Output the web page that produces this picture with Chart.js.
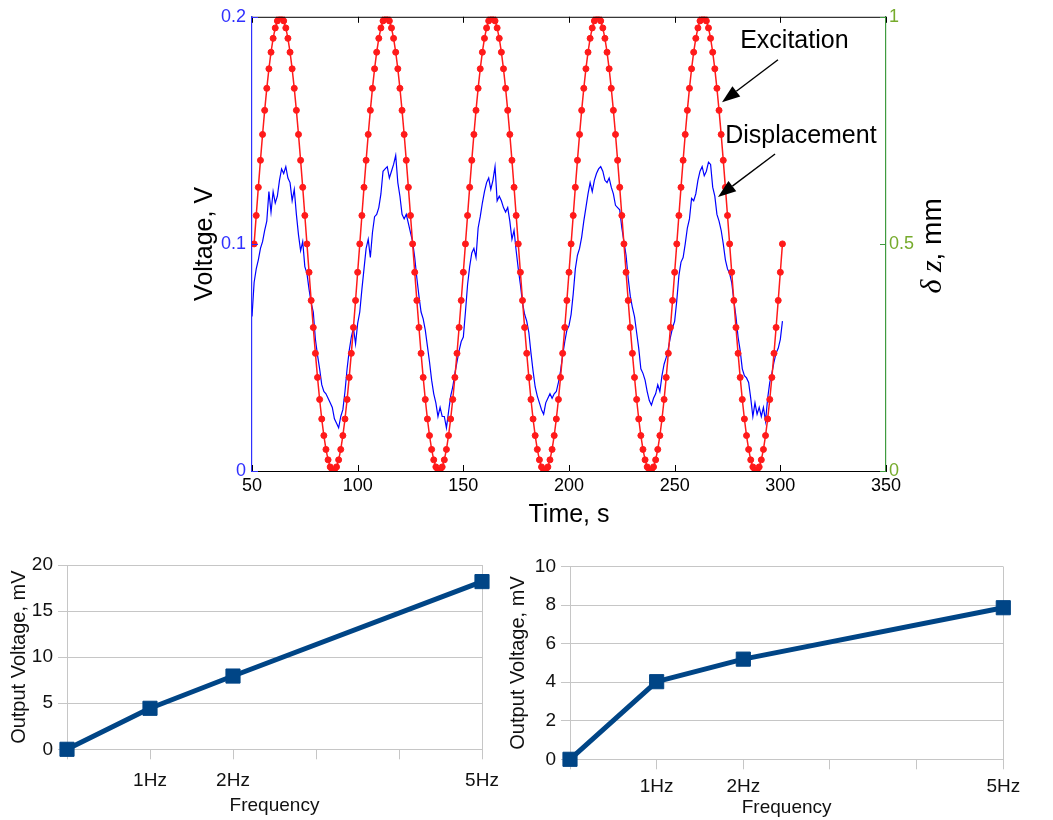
<!DOCTYPE html>
<html lang="en">
<head>
    <meta charset="UTF-8">
    <meta name="viewport" content="width=device-width, initial-scale=1.0">
    <title>Excitation, displacement and output voltage</title>
    <script src="https://cdn.jsdelivr.net/npm/chart.js"></script>
    <style>
        body { margin: 0; background: #fff; }
        canvas { position: absolute; }
    </style>
</head>
<body>
    <canvas id="timeChart" width="1053" height="540" style="left:0;top:0"></canvas>
    <canvas id="freqChartA" width="500" height="280" style="left:0;top:540px"></canvas>
    <canvas id="freqChartB" width="553" height="280" style="left:500px;top:540px"></canvas>
    <script>
        // ---- top plot: time series, one sample per second ----
        const excitationStart = 51;   // s
        const displacementStart = 50; // s

        // excitation voltage, V (one line per cycle)
        const excitationV = [
            0.1, 0.1125, 0.1249, 0.1368, 0.1482, 0.1588, 0.1685, 0.1771, 0.1844, 0.1905, 0.1951, 0.1982, 0.1998, 0.1998, 0.1982, 0.1951, 0.1905, 0.1844, 0.1771, 0.1685, 0.1588, 0.1482, 0.1368, 0.1249, 0.1125, 0.1, 0.0875, 0.0751, 0.0632, 0.0518, 0.0412, 0.0315, 0.0229, 0.0156, 0.0095, 0.0049, 0.0018, 0.0002, 0.0002, 0.0018, 0.0049, 0.0095, 0.0156, 0.0229, 0.0315, 0.0412, 0.0518, 0.0632, 0.0751, 0.0875,
            0.1, 0.1125, 0.1249, 0.1368, 0.1482, 0.1588, 0.1685, 0.1771, 0.1844, 0.1905, 0.1951, 0.1982, 0.1998, 0.1998, 0.1982, 0.1951, 0.1905, 0.1844, 0.1771, 0.1685, 0.1588, 0.1482, 0.1368, 0.1249, 0.1125, 0.1, 0.0875, 0.0751, 0.0632, 0.0518, 0.0412, 0.0315, 0.0229, 0.0156, 0.0095, 0.0049, 0.0018, 0.0002, 0.0002, 0.0018, 0.0049, 0.0095, 0.0156, 0.0229, 0.0315, 0.0412, 0.0518, 0.0632, 0.0751, 0.0875,
            0.1, 0.1125, 0.1249, 0.1368, 0.1482, 0.1588, 0.1685, 0.1771, 0.1844, 0.1905, 0.1951, 0.1982, 0.1998, 0.1998, 0.1982, 0.1951, 0.1905, 0.1844, 0.1771, 0.1685, 0.1588, 0.1482, 0.1368, 0.1249, 0.1125, 0.1, 0.0875, 0.0751, 0.0632, 0.0518, 0.0412, 0.0315, 0.0229, 0.0156, 0.0095, 0.0049, 0.0018, 0.0002, 0.0002, 0.0018, 0.0049, 0.0095, 0.0156, 0.0229, 0.0315, 0.0412, 0.0518, 0.0632, 0.0751, 0.0875,
            0.1, 0.1125, 0.1249, 0.1368, 0.1482, 0.1588, 0.1685, 0.1771, 0.1844, 0.1905, 0.1951, 0.1982, 0.1998, 0.1998, 0.1982, 0.1951, 0.1905, 0.1844, 0.1771, 0.1685, 0.1588, 0.1482, 0.1368, 0.1249, 0.1125, 0.1, 0.0875, 0.0751, 0.0632, 0.0518, 0.0412, 0.0315, 0.0229, 0.0156, 0.0095, 0.0049, 0.0018, 0.0002, 0.0002, 0.0018, 0.0049, 0.0095, 0.0156, 0.0229, 0.0315, 0.0412, 0.0518, 0.0632, 0.0751, 0.0875,
            0.1, 0.1125, 0.1249, 0.1368, 0.1482, 0.1588, 0.1685, 0.1771, 0.1844, 0.1905, 0.1951, 0.1982, 0.1998, 0.1998, 0.1982, 0.1951, 0.1905, 0.1844, 0.1771, 0.1685, 0.1588, 0.1482, 0.1368, 0.1249, 0.1125, 0.1, 0.0875, 0.0751, 0.0632, 0.0518, 0.0412, 0.0315, 0.0229, 0.0156, 0.0095, 0.0049, 0.0018, 0.0002, 0.0002, 0.0018, 0.0049, 0.0095, 0.0156, 0.0229, 0.0315, 0.0412, 0.0518, 0.0632, 0.0751, 0.0875,
            0.1
        ];

        // measured displacement δz, mm (t = 50 ... 301 s)
        const displacementMm = [
            0.340, 0.415, 0.445, 0.465, 0.490, 0.505, 0.530, 0.550, 0.615, 0.570,
            0.615, 0.590, 0.605, 0.640, 0.665, 0.655, 0.670, 0.645, 0.635, 0.595,
            0.620, 0.565, 0.520, 0.485, 0.505, 0.450, 0.435, 0.400, 0.370, 0.350,
            0.290, 0.255, 0.225, 0.190, 0.175, 0.170, 0.160, 0.150, 0.140, 0.115,
            0.105, 0.095, 0.120, 0.135, 0.175, 0.225, 0.265, 0.295, 0.315, 0.280,
            0.325, 0.350, 0.400, 0.445, 0.490, 0.510, 0.470, 0.525, 0.560, 0.565,
            0.580, 0.610, 0.660, 0.665, 0.670, 0.645, 0.660, 0.675, 0.695, 0.635,
            0.605, 0.565, 0.555, 0.565, 0.545, 0.525, 0.505, 0.470, 0.425, 0.385,
            0.350, 0.335, 0.310, 0.275, 0.240, 0.200, 0.170, 0.150, 0.120, 0.140,
            0.120, 0.120, 0.095, 0.130, 0.165, 0.185, 0.215, 0.240, 0.265, 0.285,
            0.295, 0.350, 0.410, 0.450, 0.480, 0.490, 0.470, 0.535, 0.560, 0.590,
            0.615, 0.635, 0.645, 0.620, 0.640, 0.670, 0.595, 0.605, 0.595, 0.580,
            0.570, 0.580, 0.550, 0.510, 0.530, 0.485, 0.445, 0.410, 0.370, 0.345,
            0.330, 0.305, 0.260, 0.220, 0.185, 0.165, 0.150, 0.135, 0.125, 0.150,
            0.160, 0.170, 0.160, 0.170, 0.175, 0.195, 0.220, 0.255, 0.285, 0.310,
            0.320, 0.345, 0.390, 0.445, 0.475, 0.490, 0.515, 0.550, 0.580, 0.610,
            0.635, 0.615, 0.640, 0.655, 0.665, 0.670, 0.660, 0.640, 0.635, 0.645,
            0.625, 0.610, 0.585, 0.580, 0.575, 0.535, 0.505, 0.475, 0.425, 0.385,
            0.360, 0.340, 0.305, 0.270, 0.225, 0.215, 0.200, 0.175, 0.155, 0.145,
            0.160, 0.170, 0.190, 0.175, 0.210, 0.235, 0.250, 0.270, 0.295, 0.315,
            0.330, 0.375, 0.430, 0.460, 0.470, 0.500, 0.535, 0.555, 0.600, 0.595,
            0.610, 0.640, 0.660, 0.670, 0.650, 0.660, 0.680, 0.675, 0.625, 0.605,
            0.565, 0.550, 0.530, 0.500, 0.465, 0.445, 0.435, 0.415, 0.375, 0.340,
            0.295, 0.265, 0.225, 0.210, 0.205, 0.195, 0.160, 0.120, 0.150, 0.125,
            0.140, 0.120, 0.140, 0.110, 0.160, 0.195, 0.215, 0.240, 0.260, 0.270,
            0.290, 0.330
        ];

        const timeTicks = [50, 100, 150, 200, 250, 300, 350];
        const voltTicks = [0, 0.1, 0.2];
        const dzTicks = [0, 0.5, 1];

        // text callouts, placed in (time, volt) coordinates
        const callouts = [
            { text: 'Excitation', at: [281, 0.1895], tail: [298.9, 0.1811], tip: [272.4, 0.1624] },
            { text: 'Displacement', at: [273.9, 0.1475], tail: [297.5, 0.1396], tip: [270.5, 0.1207] }
        ];

        // ---- bottom plots: output voltage vs frequency ----
        const freqLabels = ['', '1Hz', '2Hz', '', '', '5Hz'];
        const outputLeftMv = [0, 4.45, 7.95, null, null, 18.2];
        const outputRightMv = [0, 4.03, 5.2, null, null, 7.87];
        const leftMvTicks = [0, 5, 10, 15, 20];
        const rightMvTicks = [0, 2, 4, 6, 8, 10];

        const sansFont = "'Liberation Sans', Arial, Helvetica, sans-serif";
        const voltBlue = '#3030ff';
        const dzGreen = '#3f9b3f';
        const dzLabel = '#76ab2c';
        const seriesBlue = '#004586';
        const gridGray = '#c6c6c6';

        Chart.defaults.font.family = sansFont;
        Chart.defaults.color = '#000';

        function fixedTicks(values) {
            return scale => { scale.ticks = values.map(v => ({ value: v })); };
        }

        function drawArrow(ctx, x1, y1, x2, y2) {
            const a = Math.atan2(y2 - y1, x2 - x1);
            const len = 18, half = 6.5;
            const bx = x2 - len * Math.cos(a), by = y2 - len * Math.sin(a);
            ctx.beginPath();
            ctx.moveTo(x1, y1);
            ctx.lineTo(bx, by);
            ctx.stroke();
            ctx.beginPath();
            ctx.moveTo(x2, y2);
            ctx.lineTo(bx + half * Math.sin(a), by - half * Math.cos(a));
            ctx.lineTo(bx - half * Math.sin(a), by + half * Math.cos(a));
            ctx.closePath();
            ctx.fill();
        }

        // box on top, inward ticks, callouts and the right axis title (reads bottom to top)
        const matlabFrame = {
            id: 'matlabFrame',
            afterDraw(chart) {
                const { ctx, chartArea: area, scales } = chart;
                const tickLen = 6;
                ctx.save();
                ctx.lineWidth = 1;
                ctx.strokeStyle = '#000';
                ctx.beginPath();
                ctx.moveTo(area.left, area.top + 0.5);
                ctx.lineTo(area.right, area.top + 0.5);
                ctx.stroke();

                scales.x.ticks.forEach(t => {
                    const px = Math.round(scales.x.getPixelForValue(t.value)) + 0.5;
                    ctx.beginPath();
                    ctx.moveTo(px, area.bottom);
                    ctx.lineTo(px, area.bottom - tickLen);
                    ctx.moveTo(px, area.top);
                    ctx.lineTo(px, area.top + tickLen);
                    ctx.stroke();
                });
                ctx.strokeStyle = voltBlue;
                scales.y.ticks.forEach(t => {
                    const py = Math.round(scales.y.getPixelForValue(t.value)) + 0.5;
                    ctx.beginPath();
                    ctx.moveTo(area.left, py);
                    ctx.lineTo(area.left + tickLen, py);
                    ctx.stroke();
                });
                ctx.strokeStyle = dzGreen;
                scales.y2.ticks.forEach(t => {
                    const py = Math.round(scales.y2.getPixelForValue(t.value)) + 0.5;
                    ctx.beginPath();
                    ctx.moveTo(area.right, py);
                    ctx.lineTo(area.right - tickLen, py);
                    ctx.stroke();
                });

                // callouts
                const X = v => scales.x.getPixelForValue(v);
                const Y = v => scales.y.getPixelForValue(v);
                ctx.fillStyle = '#000';
                ctx.strokeStyle = '#000';
                ctx.lineWidth = 1.4;
                ctx.font = '25px ' + sansFont;
                ctx.textAlign = 'left';
                ctx.textBaseline = 'middle';
                callouts.forEach(c => {
                    ctx.fillText(c.text, X(c.at[0]), Y(c.at[1]));
                    drawArrow(ctx, X(c.tail[0]), Y(c.tail[1]), X(c.tip[0]), Y(c.tip[1]));
                });

                // right axis title
                const partA = 'δ z', partB = ', mm';
                const fontA = "italic 30px 'Liberation Serif', 'DejaVu Serif', serif";
                const fontB = '28px ' + sansFont;
                ctx.font = fontA;
                const wA = ctx.measureText(partA).width;
                ctx.font = fontB;
                const wB = ctx.measureText(partB).width;
                ctx.translate(area.right + 47, (area.top + area.bottom) / 2 + 2);
                ctx.rotate(-Math.PI / 2);
                ctx.font = fontA;
                ctx.fillText(partA, -(wA + wB) / 2, 0);
                ctx.font = fontB;
                ctx.fillText(partB, -(wA + wB) / 2 + wA, 0);
                ctx.restore();
            }
        };

        new Chart(document.getElementById('timeChart'), {
            type: 'line',
            data: {
                datasets: [{
                    label: 'Excitation',
                    data: excitationV.map((v, i) => ({ x: excitationStart + i, y: v })),
                    yAxisID: 'y',
                    borderColor: '#ff1a1a',
                    backgroundColor: '#ff1a1a',
                    borderWidth: 1.5,
                    pointRadius: 3,
                    pointBorderWidth: 1
                }, {
                    label: 'Displacement',
                    data: displacementMm.map((v, i) => ({ x: displacementStart + i, y: v })),
                    yAxisID: 'y2',
                    borderColor: '#0000ff',
                    borderWidth: 1.2,
                    pointRadius: 0
                }]
            },
            plugins: [matlabFrame],
            options: {
                responsive: false,
                animation: false,
                events: [],
                layout: { padding: { left: 186, right: 0, top: 14, bottom: 5 } },
                plugins: { legend: { display: false }, tooltip: { enabled: false } },
                scales: {
                    x: {
                        type: 'linear',
                        min: timeTicks[0],
                        max: timeTicks[timeTicks.length - 1],
                        afterBuildTicks: fixedTicks(timeTicks),
                        afterFit: s => { s.height = 64; },
                        grid: { display: false, drawTicks: false },
                        border: { display: true, color: '#000', width: 1 },
                        ticks: { font: { size: 18 }, color: '#000', padding: 4, maxRotation: 0, callback: v => String(v) },
                        title: { display: true, text: 'Time, s', font: { size: 25 }, color: '#000', padding: { top: 0, bottom: 5 } }
                    },
                    y: {
                        position: 'left',
                        min: voltTicks[0],
                        max: voltTicks[voltTicks.length - 1],
                        afterBuildTicks: fixedTicks(voltTicks),
                        afterFit: s => { s.width = 66; },
                        grid: { display: false, drawTicks: false },
                        border: { display: true, color: voltBlue, width: 1.2 },
                        ticks: { font: { size: 18 }, color: voltBlue, padding: 6, callback: v => String(v) },
                        title: { display: true, text: 'Voltage, V', font: { size: 25 }, color: '#000', padding: { top: 4, bottom: 0 } }
                    },
                    y2: {
                        position: 'right',
                        min: dzTicks[0],
                        max: dzTicks[dzTicks.length - 1],
                        afterBuildTicks: fixedTicks(dzTicks),
                        afterFit: s => { s.width = 167; },
                        grid: { display: false, drawTicks: false },
                        border: { display: true, color: dzGreen, width: 1.2 },
                        ticks: { font: { size: 18 }, color: dzLabel, padding: 3, callback: v => String(v) }
                    }
                }
            }
        });

        function outputChart(canvasId, values, mvTicks, box) {
            return new Chart(document.getElementById(canvasId), {
                type: 'line',
                data: {
                    labels: freqLabels,
                    datasets: [{
                        data: values,
                        spanGaps: true,
                        clip: false,
                        borderColor: seriesBlue,
                        backgroundColor: seriesBlue,
                        borderWidth: 5,
                        borderJoinStyle: 'round',
                        pointStyle: 'rect',
                        pointRadius: 10,
                        pointBorderWidth: 1
                    }]
                },
                options: {
                    responsive: false,
                    animation: false,
                    events: [],
                    layout: { padding: { left: 0, top: box.top, right: box.right, bottom: 0 } },
                    plugins: { legend: { display: false }, tooltip: { enabled: false } },
                    scales: {
                        x: {
                            type: 'category',
                            offset: false,
                            afterFit: s => {
                                s.height = box.xHeight;
                                s.paddingLeft = 0;
                                s.paddingRight = 0;
                            },
                            grid: {
                                color: c => (c.index === 0 || c.index === freqLabels.length - 1) ? gridGray : 'rgba(0,0,0,0)',
                                tickColor: gridGray,
                                tickLength: 10,
                                lineWidth: 1
                            },
                            border: { display: false },
                            ticks: { font: { size: 19 }, color: '#111', padding: box.xPad, autoSkip: false, maxRotation: 0 },
                            title: { display: true, text: 'Frequency', font: { size: 19 }, color: '#111', padding: { top: 0, bottom: box.titlePad } }
                        },
                        y: {
                            min: mvTicks[0],
                            max: mvTicks[mvTicks.length - 1],
                            afterBuildTicks: fixedTicks(mvTicks),
                            afterFit: s => { s.width = box.yWidth; },
                            grid: { color: gridGray, tickLength: 9, lineWidth: 1 },
                            border: { display: false },
                            ticks: { font: { size: 19 }, color: '#111', padding: 5, callback: v => String(v) },
                            title: { display: true, text: 'Output Voltage, mV', font: { size: 20 }, color: '#111', padding: { top: box.yTitlePad, bottom: 0 } }
                        }
                    }
                }
            });
        }

        outputChart('freqChartA', outputLeftMv, leftMvTicks,
            { top: 25, right: 18, xHeight: 70.7, xPad: 10, titlePad: 3, yWidth: 67, yTitlePad: 7 });
        outputChart('freqChartB', outputRightMv, rightMvTicks,
            { top: 26.7, right: 49.7, xHeight: 60.7, xPad: 6, titlePad: 1, yWidth: 70, yTitlePad: 6 });
    </script>
</body>
</html>
